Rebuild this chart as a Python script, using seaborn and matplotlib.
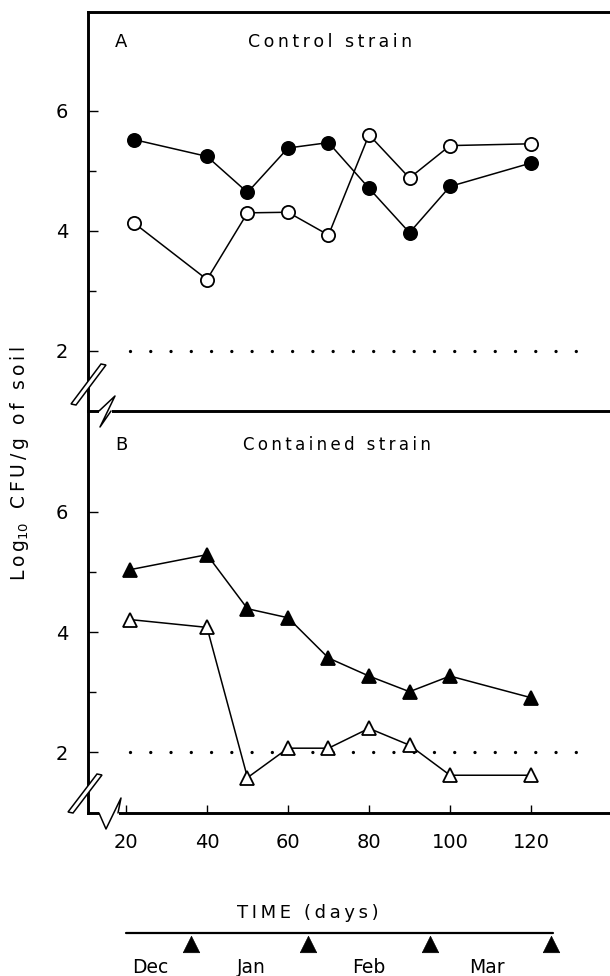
import matplotlib
matplotlib.use("Agg")
import matplotlib.pyplot as plt
from matplotlib.lines import Line2D
from matplotlib.patches import Polygon
from matplotlib.ticker import FixedLocator
import seaborn as sns

# panel A: control strain
days_a = [22, 40, 50, 60, 70, 80, 90, 100, 120]
control_filled = [5.52, 5.24, 4.64, 5.38, 5.47, 4.71, 3.97, 4.74, 5.13]
control_open = [4.13, 3.19, 4.30, 4.31, 3.93, 5.60, 4.88, 5.42, 5.45]

# panel B: contained strain
days_b = [21, 40, 50, 60, 70, 80, 90, 100, 120]
contained_filled = [5.04, 5.29, 4.39, 4.24, 3.57, 3.27, 3.01, 3.27, 2.91]
contained_open = [4.21, 4.08, 1.58, 2.07, 2.07, 2.40, 2.12, 1.62, 1.62]

detection_limit = 2
limit_span = (21, 131.5)

x_ticks = [20, 40, 60, 80, 100, 120]
y_ticks = [2, 4, 6]
y_minor = [3, 5]

# calendar strip under the time axis
month_marks = [36, 65, 95, 125]
month_names = ["Dec", "Jan", "Feb", "Mar"]
month_centres = [26, 51, 80, 109]
timeline_span = (20, 125.5)

W, H = 610, 976

sns.set_style("white")
plt.rcParams["font.family"] = ["DejaVu Sans"]
plt.rcParams["lines.scale_dashes"] = False
plt.rcParams["text.color"] = "black"
plt.rcParams["axes.edgecolor"] = "black"
plt.rcParams["xtick.color"] = "black"
plt.rcParams["ytick.color"] = "black"

fig = plt.figure(figsize=(W / 100, H / 100), dpi=100)


def fx(px):
    return px / W


def fy(py):
    return 1 - py / H


def track(s):
    # wide letter spacing like the typeset original
    return "\u2009".join(s)


left = fx(87.5)
width = 1 - left
ax_a = fig.add_axes([left, fy(411), width, fy(11.7) - fy(411)])
ax_b = fig.add_axes([left, fy(812.5), width, fy(411) - fy(812.5)])
ax_t = fig.add_axes([left, 0, width, fy(895)])

for ax in (ax_a, ax_b):
    ax.set_xlim(10.5, 139.5)
    ax.yaxis.set_major_locator(FixedLocator(y_ticks))
    ax.yaxis.set_minor_locator(FixedLocator(y_minor))
    ax.tick_params(axis="y", which="major", direction="in", length=7, width=1,
                   labelsize=14, pad=14, left=True)
    ax.tick_params(axis="y", which="minor", direction="in", length=5.5, width=1,
                   left=True)
    ax.spines["right"].set_visible(False)
    ax.spines["left"].set_linewidth(2.1)
    ax.spines["top"].set_linewidth(2.1)
    ax.set_xlabel("")
    ax.set_ylabel("")

ax_a.set_ylim(1.0, 7.65)
ax_b.set_ylim(1.0, 7.68)
ax_a.spines["bottom"].set_visible(False)
ax_a.tick_params(axis="x", bottom=False, labelbottom=False)
ax_b.spines["bottom"].set_linewidth(2.1)
ax_b.xaxis.set_major_locator(FixedLocator(x_ticks))
ax_b.tick_params(axis="x", direction="in", length=5.5, width=1, labelsize=14,
                 pad=14.5, bottom=True)

line_kw = dict(color="black", linewidth=1.1, markersize=9.5, markeredgecolor="black",
               markeredgewidth=1.3)

sns.lineplot(x=days_a, y=control_filled, ax=ax_a, marker="o",
             markerfacecolor="black", **line_kw)
sns.lineplot(x=days_a, y=control_open, ax=ax_a, marker="o",
             markerfacecolor="white", **line_kw)
sns.lineplot(x=days_b, y=contained_filled, ax=ax_b, marker="^",
             markerfacecolor="black", **line_kw)
sns.lineplot(x=days_b, y=contained_open, ax=ax_b, marker="^",
             markerfacecolor="white", **line_kw)

for ax in (ax_a, ax_b):
    ax.plot(limit_span, [detection_limit, detection_limit], color="black",
            linewidth=2.4, linestyle=(0, (0.01, 14.58)), dash_capstyle="round",
            zorder=1)

ax_a.text((121 - 87.5) / 522.5, (411 - 42) / 399.3, "A", transform=ax_a.transAxes,
          ha="center", va="center", fontsize=13)
ax_a.text((330 - 87.5) / 522.5, (411 - 42) / 399.3, track("Control strain"),
          transform=ax_a.transAxes, ha="center", va="center", fontsize=12.5)
ax_b.text((121 - 87.5) / 522.5, (812.5 - 445) / 401.5, "B", transform=ax_b.transAxes,
          ha="center", va="center", fontsize=13)
ax_b.text((337 - 87.5) / 522.5, (812.5 - 445) / 401.5, track("Contained strain"),
          transform=ax_b.transAxes, ha="center", va="center", fontsize=12)

ylabel = track("Log") + "$_{10}$\u2009" + track(" CFU/g of soil")
fig.text(fx(20), fy(464), ylabel, rotation=90, ha="center", va="center",
         fontsize=13.5)

# calendar strip
ax_t.set_xlim(10.5, 139.5)
ax_t.set_ylim(0, 1)
ax_t.axis("off")
ax_t.plot(timeline_span, [0.531, 0.531], color="black", linewidth=1.6)
sns.scatterplot(x=month_marks, y=[0.389] * len(month_marks), ax=ax_t, marker="^",
                s=140, color="black", edgecolor="black", linewidth=0.5)
for name, centre in zip(month_names, month_centres):
    ax_t.text(centre, 0.111, name, ha="center", va="center", fontsize=13.5)
ax_t.text(65, 0.778, track("TIME (days)"), ha="center", va="center", fontsize=13)


# axis break marks, drawn in figure pixels
def seg(points, lw=1.1):
    xs = [fx(p[0]) for p in points]
    ys = [fy(p[1]) for p in points]
    fig.add_artist(Line2D(xs, ys, color="black", linewidth=lw,
                          transform=fig.transFigure, zorder=5))


def patch(points, face="white", edge="none", lw=0):
    fig.add_artist(Polygon([(fx(x), fy(y)) for x, y in points], closed=True,
                           facecolor=face, edgecolor=edge, linewidth=lw,
                           transform=fig.transFigure, zorder=4))


# y-axis breaks
patch([(71, 404), (101, 364), (106, 365), (76, 405)], edge="black", lw=1.1)
patch([(68, 812), (97, 774), (102, 775), (73, 813)], edge="black", lw=1.1)
# x-axis breaks
patch([(99, 407), (112, 407), (112, 415), (99, 415)])
seg([(99, 411), (115, 396), (100, 427), (111, 411)])
patch([(99, 809), (119, 809), (119, 817), (99, 817)])
seg([(99, 813), (106, 829), (121, 798), (118, 813)])

fig.savefig("out.png", dpi=100)
